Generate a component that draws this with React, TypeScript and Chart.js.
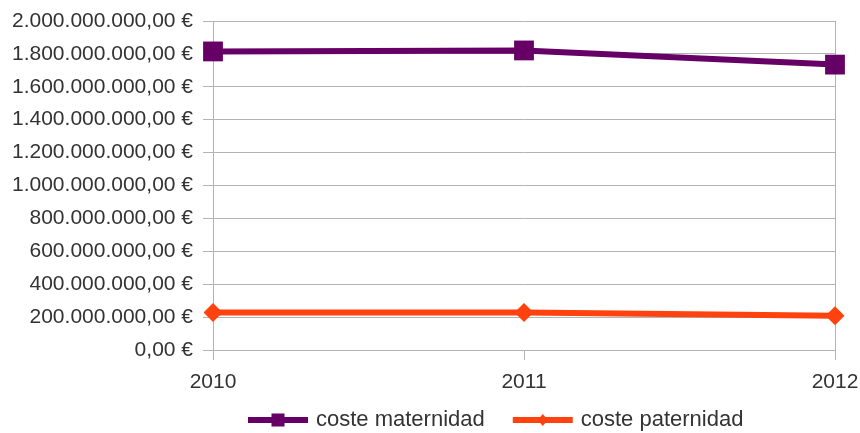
import React, { useEffect, useRef } from 'react';
import { Chart, registerables } from 'chart.js';

Chart.register(...registerables);

const years = ['2010', '2011', '2012'];
const costeMaternidad = [1815000000, 1821000000, 1735000000];
const costePaternidad = [228000000, 228000000, 208000000];
const seriesNames = ['coste maternidad', 'coste paternidad'];
const seriesColors = ['#660066', '#ff420e'];
const yMin = 0;
const yMax = 2000000000;
const yStep = 200000000;

const FONT_FAMILY = '"Liberation Sans", Arial, sans-serif';
const TEXT_COLOR = '#333333';
const GRID_COLOR = '#b3b3b3';

function formatEuro(v: number): string {
  const s = Math.round(v).toString().replace(/\B(?=(\d{3})+(?!\d))/g, '.');
  return s + ',00 €';
}

const legendPlugin = {
  id: 'customLegend',
  afterDraw(chart: any) {
    const ctx = chart.ctx;
    ctx.save();
    ctx.font = '22px ' + FONT_FAMILY;
    let x = 248;
    const y = 420;
    chart.data.datasets.forEach((ds: any, i: number) => {
      ctx.strokeStyle = ds.borderColor;
      ctx.lineWidth = 6;
      ctx.beginPath();
      ctx.moveTo(x, y);
      ctx.lineTo(x + 60, y);
      ctx.stroke();
      ctx.fillStyle = ds.borderColor;
      const cx = x + 30;
      if (i === 0) {
        ctx.fillRect(cx - 6.5, y - 6.5, 13, 13);
      } else {
        ctx.beginPath();
        ctx.moveTo(cx, y - 6);
        ctx.lineTo(cx + 5, y);
        ctx.lineTo(cx, y + 6);
        ctx.lineTo(cx - 5, y);
        ctx.closePath();
        ctx.fill();
      }
      ctx.fillStyle = TEXT_COLOR;
      ctx.textBaseline = 'middle';
      ctx.textAlign = 'left';
      ctx.fillText(ds.label, x + 68, y);
      x += 68 + ctx.measureText(ds.label).width + 28;
    });
    ctx.restore();
  },
};

export default function App() {
  const canvasRef = useRef<HTMLCanvasElement | null>(null);

  useEffect(() => {
    document.body.style.margin = '0';
    const canvas = canvasRef.current;
    if (!canvas) return;
    const chart = new Chart(canvas, {
      type: 'line',
      data: {
        labels: years,
        datasets: [
          {
            label: seriesNames[0],
            data: costeMaternidad,
            borderColor: seriesColors[0],
            backgroundColor: seriesColors[0],
            borderWidth: 6,
            pointStyle: 'rect',
            pointRadius: 14,
            pointBorderWidth: 0,
            tension: 0,
          },
          {
            label: seriesNames[1],
            data: costePaternidad,
            borderColor: seriesColors[1],
            backgroundColor: seriesColors[1],
            borderWidth: 6,
            pointStyle: 'rectRot',
            pointRadius: 9.5,
            pointBorderWidth: 0,
            tension: 0,
          },
        ],
      },
      options: {
        responsive: false,
        animation: false,
        layout: { padding: { left: 0, top: 21, right: 25, bottom: 35 } },
        plugins: {
          legend: { display: false },
          tooltip: { enabled: false },
        },
        scales: {
          x: {
            offset: false,
            grid: {
              color: (c: any) => (c.index === 1 ? 'rgba(0,0,0,0)' : GRID_COLOR),
              tickColor: GRID_COLOR,
              tickLength: 10,
              lineWidth: 1,
            },
            border: { color: GRID_COLOR },
            ticks: {
              color: TEXT_COLOR,
              font: { family: FONT_FAMILY, size: 21 },
              padding: 10,
              maxRotation: 0,
            },
            afterFit: (s: any) => {
              s.height = 48;
              s.paddingLeft = 0;
              s.paddingRight = 0;
            },
          },
          y: {
            min: yMin,
            max: yMax,
            grid: { color: GRID_COLOR, tickLength: 10, lineWidth: 1 },
            border: { color: GRID_COLOR },
            ticks: {
              stepSize: yStep,
              color: TEXT_COLOR,
              font: { family: FONT_FAMILY, size: 21 },
              padding: 10,
              callback: (v: any) => formatEuro(Number(v)),
            },
            afterFit: (s: any) => {
              s.width = 213;
              s.paddingTop = 0;
              s.paddingBottom = 0;
            },
          },
        },
      },
      plugins: [legendPlugin],
    });
    return () => chart.destroy();
  }, []);

  return (
    <div style={{ width: 860, height: 433 }}>
      <canvas ref={canvasRef} width={860} height={433} style={{ display: 'block' }} />
    </div>
  );
}
